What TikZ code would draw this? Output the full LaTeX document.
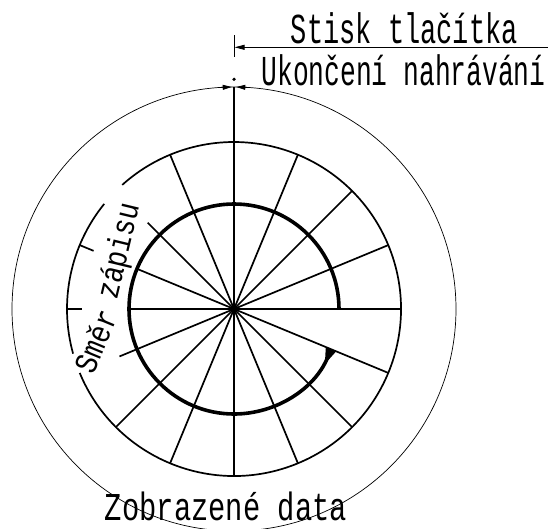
\documentclass[tikz,border=0pt]{standalone}
\usepackage{fontspec}
\setmonofont{Liberation Mono}
\usetikzlibrary{arrows.meta}

\begin{document}
\begin{tikzpicture}[
            x=1pt, y=1pt,
            outer line/.style={line width=0.7pt, black},
            ring line/.style={line width=1.7pt, black},
            spoke line/.style={line width=1.7pt, black},
            track line/.style={line width=3.6pt, black},
            leader line/.style={line width=0.8pt, black},
            cad label/.style={font=\ttfamily\fontsize{27}{30}\selectfont, inner sep=0pt, text=black},
        ]

        % Radii of the disc
        \def\rOut{222}
        \def\rRing{167}
        \def\rTrack{105}

        \useasboundingbox (-234,-219) rectangle (314,309);

        % Centre
        \coordinate (c) at (0,0);

        % Outer circle
        \draw[outer line] (c) circle[radius=\rOut];

        % Sector ring (broken where the text sits)
        \draw[ring line] (202.5:\rRing) arc[start angle=202.5, end angle=492, radius=\rRing];
        \draw[ring line] (141:\rRing) arc[start angle=141, end angle=195.5, radius=\rRing];

        % Spokes
        \foreach \a in {0, 22.5, 45, 67.5, 112.5, 225, 247.5, 270, 292.5, 315, 337.5} {
            \draw[spoke line] (c) -- (\a:\rRing);
        }
        \draw[spoke line] (c) -- (90:\rOut);
        \foreach \a/\r in {135/122, 157.5/\rTrack, 180/\rTrack, 202.5/124} {
            \draw[spoke line] (c) -- (\a:\r);
        }
        \foreach \a in {157.5, 180} {
            \draw[spoke line] (\a:152) -- (\a:\rRing);
        }

        % Recording track
        \draw[track line, -{Triangle[reversed, length=17pt, width=10pt]}]
            (0:\rTrack) arc[start angle=0, end angle=337.5, radius=\rTrack];

        % Start mark on the outer circle
        \coordinate (start) at (0,229.7);
        \fill (start) circle[radius=1.8];
        \draw[leader line, -{Triangle[length=9pt, width=5pt]}] (-13,221.6) -- (-2.3,222);
        \draw[leader line, -{Triangle[length=9pt, width=5pt]}] (13,221.6) -- (2.3,222);

        % Leader
        \coordinate (tick top) at (0,274);
        \coordinate (tick bot) at (0,252);
        \coordinate (lead end) at (314,261.7);
        \coordinate (lead tip) at (0.6,261.7);
        \draw[leader line] (tick top) -- (tick bot);
        \draw[leader line, -{Triangle[length=10pt, width=5pt]}] (lead end) -- (lead tip);

        % Labels
        \node[cad label, anchor=base, yscale=1.58] (press) at (170.3,265.3) {Stisk tlačítka};
        \node[cad label, font=\ttfamily\fontsize{26.3}{30}\selectfont, anchor=base, yscale=1.62] (stop) at (169.5,223.4) {Ukončení nahrávání};
        \node[cad label, font=\ttfamily\fontsize{28.8}{32}\selectfont, anchor=base, yscale=1.37] (shown) at (-8.1,-211) {Zobrazené data};
        \node[cad label, rotate=67.5, yscale=1.2] (dir a) at (-138.7,-32.5) {Směr};
        \node[cad label, rotate=76.5, yscale=1.2] (dir b) at (-114,57.5) {zápisu};

        \end{tikzpicture}
\end{document}
